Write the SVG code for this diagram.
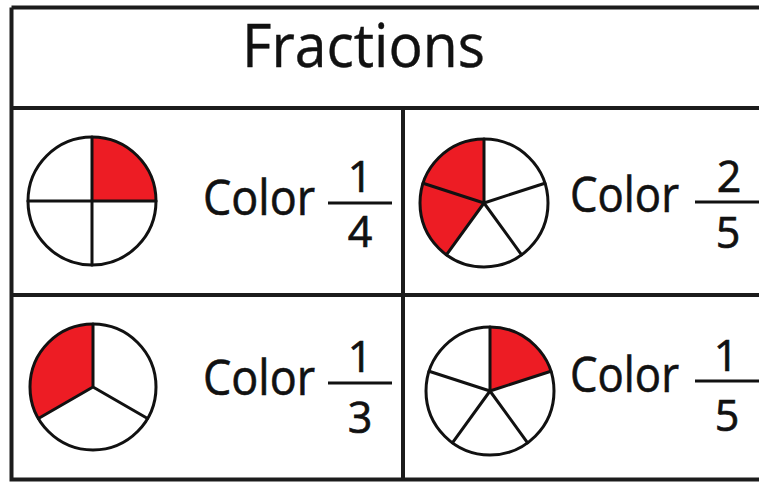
<svg xmlns="http://www.w3.org/2000/svg" width="759" height="482" viewBox="0 0 759 482">
<style>
.grid{stroke:#1c1c1c;stroke-width:4;fill:none}
.spoke{stroke:#111;stroke-width:3;fill:none;stroke-linecap:round}
.red{fill:#ED1C24;stroke:none}
.lbl{font-family:"Open Sans","Noto Sans",sans-serif;font-size:50px;fill:#111;stroke:#111;stroke-width:0.6}
.num{font-family:"Open Sans","Noto Sans",sans-serif;font-size:43px;fill:#111;stroke:#111;stroke-width:0.7;text-anchor:middle}
.bar{stroke:#111;stroke-width:3}
.title{font-family:"Open Sans","Noto Sans",sans-serif;font-size:60px;fill:#111;stroke:#111;stroke-width:0.4}
</style>
<rect width="759" height="482" fill="#fff"/>
<g id="table">
<path class="grid" d="M11.5,7.5 H770 M11.5,7.5 V479.5 H770 M11.5,108 H770 M11.5,295 H770 M403,108 V479.5"/>
</g>
<g id="title">
<text class="title" x="242" y="67" textLength="243" lengthAdjust="spacingAndGlyphs">Fractions</text>
</g>
<g id="cell-quarter">
<path class="red" d="M92,201 L92,137 A64,64 0 0 1 156,201 Z"/>
<circle cx="92" cy="201" r="64" fill="none" stroke="#111" stroke-width="3"/>
<path class="spoke" d="M92,137 V265 M28,201 H156"/>
<text class="lbl" x="203" y="215" textLength="112" lengthAdjust="spacingAndGlyphs">Color</text>
<line class="bar" x1="328" y1="203" x2="392" y2="203"/>
<text class="num" x="360" y="192">1</text>
<text class="num" x="360" y="247">4</text>
</g>
<g id="cell-two-fifths">
<path class="red" d="M484,203 L446.4,254.8 A64,64 0 0 1 484,139 Z"/>
<circle cx="484" cy="203" r="64" fill="none" stroke="#111" stroke-width="3"/>
<path class="spoke" d="M484,203 L484,139 M484,203 L544.9,183.2 M484,203 L521.6,254.8 M484,203 L446.4,254.8 M484,203 L423.1,183.2"/>
<text class="lbl" x="570" y="212" textLength="109" lengthAdjust="spacingAndGlyphs">Color</text>
<line class="bar" x1="695" y1="202" x2="762" y2="202"/>
<text class="num" x="729" y="192">2</text>
<text class="num" x="728" y="248">5</text>
</g>
<g id="cell-third">
<path class="red" d="M93,387 L38.4,418.5 A63,63 0 0 1 93,324 Z"/>
<circle cx="93" cy="387" r="63" fill="none" stroke="#111" stroke-width="3"/>
<path class="spoke" d="M93,387 L93,324 M93,387 L147.6,418.5 M93,387 L38.4,418.5"/>
<text class="lbl" x="203" y="395" textLength="112" lengthAdjust="spacingAndGlyphs">Color</text>
<line class="bar" x1="328" y1="383" x2="392" y2="383"/>
<text class="num" x="360" y="372">1</text>
<text class="num" x="360" y="433">3</text>
</g>
<g id="cell-fifth">
<path class="red" d="M490,391 L490,327 A64,64 0 0 1 550.9,371.2 Z"/>
<circle cx="490" cy="391" r="64" fill="none" stroke="#111" stroke-width="3"/>
<path class="spoke" d="M490,391 L490,327 M490,391 L550.9,371.2 M490,391 L527.6,442.8 M490,391 L452.4,442.8 M490,391 L429.1,371.2"/>
<text class="lbl" x="570" y="392" textLength="109" lengthAdjust="spacingAndGlyphs">Color</text>
<line class="bar" x1="695" y1="381" x2="762" y2="381"/>
<text class="num" x="726" y="371">1</text>
<text class="num" x="727" y="431">5</text>
</g>
</svg>
